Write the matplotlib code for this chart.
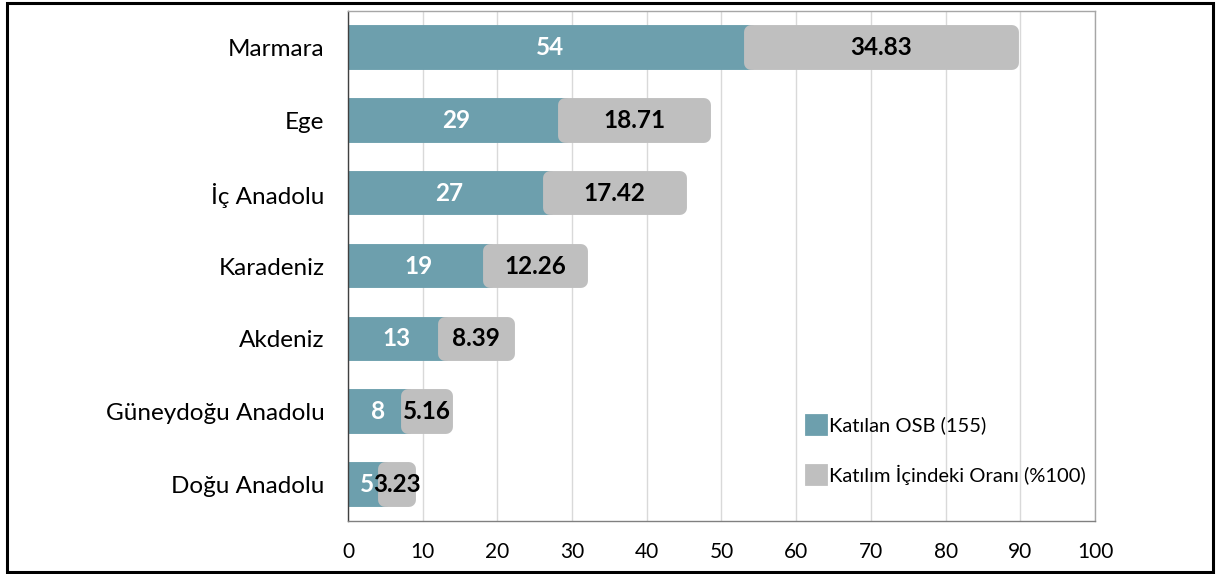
import matplotlib.pyplot as plt
from matplotlib.patches import Patch, Rectangle

plt.rcParams['font.family'] = ['Lato', 'DejaVu Sans']

bolgeler = ['Marmara', 'Ege', 'İç Anadolu', 'Karadeniz', 'Akdeniz',
            'Güneydoğu Anadolu', 'Doğu Anadolu']
osb = [54, 29, 27, 19, 13, 8, 5]
oran = [34.83, 18.71, 17.42, 12.26, 8.39, 5.16, 3.23]

renk_osb = '#6d9fad'
renk_oran = '#bfbfbf'

fig = plt.figure(figsize=(12.17, 5.74), dpi=100)
ax = fig.add_axes([0.2859, 0.0923, 0.6139, 0.8885])

y = list(range(len(bolgeler)))
h = 0.42
b1 = ax.barh(y, osb, height=h, color=renk_osb, edgecolor=renk_osb,
             linewidth=10, joinstyle='round', zorder=2)
b2 = ax.barh(y, oran, left=osb, height=h, color=renk_oran, edgecolor=renk_oran,
             linewidth=10, joinstyle='round', zorder=3)

for i in y:
    ax.text(osb[i] / 2, i, str(osb[i]), ha='center', va='center',
            color='white', fontsize=17.5, fontweight='bold', zorder=4)
    ax.text(osb[i] + oran[i] / 2, i, f'{oran[i]:.2f}', ha='center', va='center',
            color='black', fontsize=17.5, fontweight='bold', zorder=4)

ax.set_xlim(0, 100)
ax.set_ylim(6.5, -0.5)
ax.set_xticks(range(0, 101, 10))
ax.set_yticks(y)
ax.set_yticklabels(bolgeler, fontsize=17.5)
ax.tick_params(axis='x', labelsize=15, length=0, pad=15)
ax.tick_params(axis='y', length=0, pad=17)
ax.grid(axis='x', color='#d9d9d9', linewidth=1, zorder=0)
ax.set_axisbelow(True)

ax.spines['left'].set_color('#404040')
ax.spines['bottom'].set_color('#808080')
ax.spines['top'].set_color('#a6a6a6')
ax.spines['right'].set_color('#a6a6a6')
for s in ax.spines.values():
    s.set_linewidth(1)

tutamac = [Patch(facecolor=renk_osb, edgecolor=renk_osb, linewidth=2, joinstyle='round'),
           Patch(facecolor=renk_oran, edgecolor=renk_oran, linewidth=2, joinstyle='round')]
ax.legend(tutamac, ['Katılan OSB (155)', 'Katılım İçindeki Oranı (%100)'],
          loc='lower left', bbox_to_anchor=(0.589, 0.036), frameon=False,
          fontsize=14.5, handlelength=1.0, handleheight=1.1, handletextpad=0.15,
          labelspacing=1.5)

# dış çerçeve
fig.patches.append(Rectangle((7 / 1217, 2 / 574), 1206 / 1217, 569 / 574,
                             transform=fig.transFigure, fill=False,
                             edgecolor='black', linewidth=2.2))

fig.savefig('out.png', dpi=100)
